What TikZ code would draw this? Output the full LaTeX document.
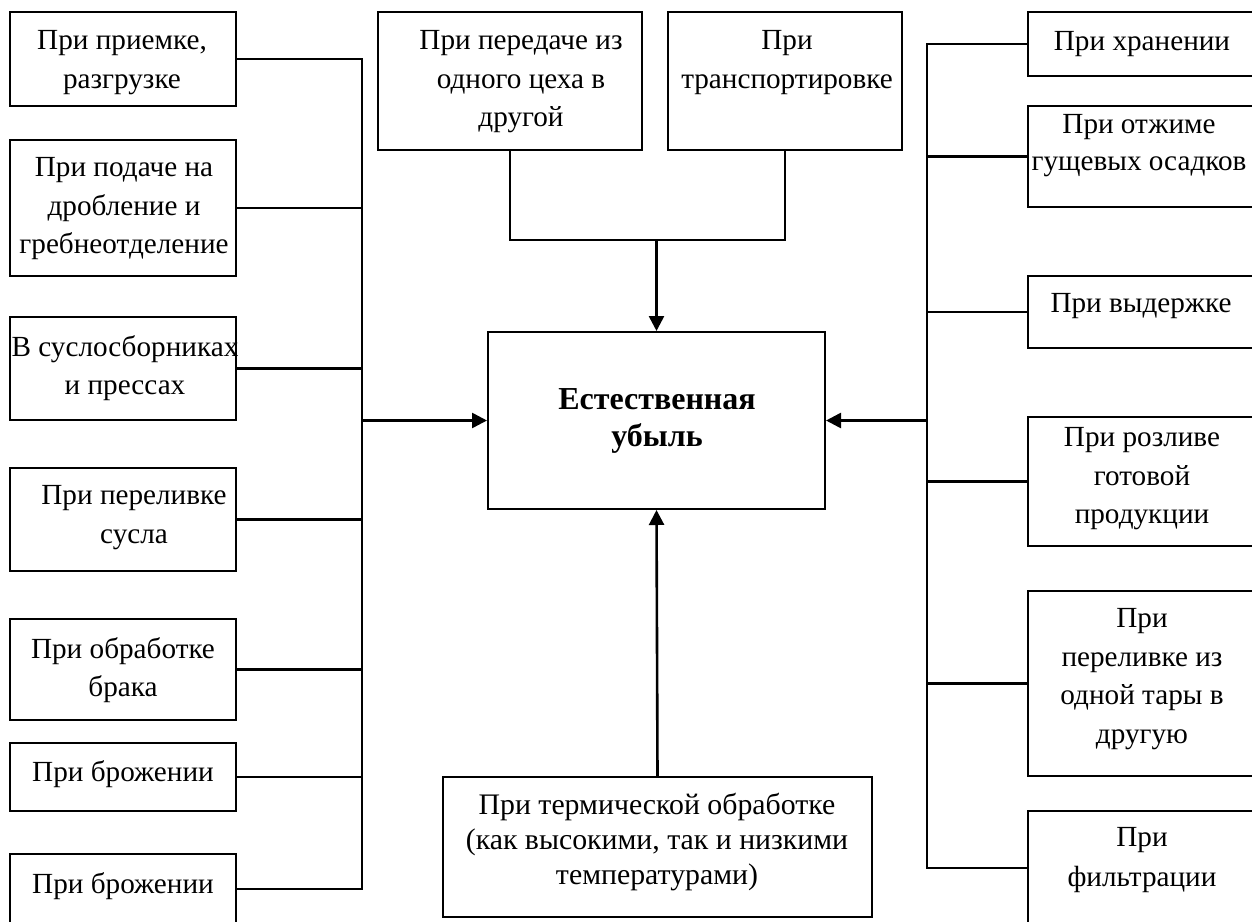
\documentclass[tikz,border=0pt]{standalone}
\usepackage{fontspec}
\setmainfont{Liberation Serif}
\usetikzlibrary{arrows.meta}
\begin{document}
\begin{tikzpicture}[x=0.5pt,y=-0.5pt,
  box/.style={draw, line width=1pt, rectangle, inner sep=0pt},
  txt/.style={anchor=north, inner sep=0pt, align=center,
    font=\fontsize{14.6}{19.25}\selectfont,
    execute at begin node={\rule{0pt}{10pt}}},
  link/.style={line width=1.3pt},
  feed/.style={line width=1.3pt, -{Triangle[length=7.5pt,width=7.5pt]}}]
\useasboundingbox (0,0) rectangle (1252,921);
\clip (0,0) rectangle (1252,921);

% left column
\node[box, minimum width=113pt, minimum height=47pt]   (L1) at (123,59)    {};
\node[box, minimum width=113pt, minimum height=68pt]   (L2) at (123,208)   {};
\node[box, minimum width=113pt, minimum height=51.5pt] (L3) at (123,368.5) {};
\node[box, minimum width=113pt, minimum height=51.5pt] (L4) at (123,519.5) {};
\node[box, minimum width=113pt, minimum height=50.5pt] (L5) at (123,669.5) {};
\node[box, minimum width=113pt, minimum height=34pt]   (L6) at (123,777)   {};
\node[box, minimum width=113pt, minimum height=35pt]   (L7) at (123,889)   {};

\node[txt] (tL1) at (122,30)  {При приемке,\\разгрузке};
\node[txt] (tL2) at (124,157) {При подаче на\\дробление и\\гребнеотделение};
\node[txt] (tL3) at (125,335) {В суслосборниках\\и прессах};
\node[txt] (tL4) at (134,485) {При переливке\\сусла};
\node[txt] (tL5) at (123,637) {При обработке\\брака};
\node[txt] (tL6) at (123,760) {При брожении};
\node[txt] (tL7) at (123,872) {При брожении};

% top pair
\node[box, minimum width=132pt, minimum height=69pt] (A) at (510,81) {};
\node[box, minimum width=117pt, minimum height=69pt] (B) at (785,81) {};
\node[txt] (tA) at (521,30) {При передаче из\\одного цеха в\\другой};
\node[txt] (tB) at (787,30) {При\\транспортировке};

% centre
\node[box, minimum width=168.5pt, minimum height=88.5pt] (M) at (656.5,420.5) {};
\node[txt, font=\fontsize{16}{18.5}\selectfont\bfseries] (tM) at (657,388) {Естественная\\убыль};

% bottom
\node[box, minimum width=214.5pt, minimum height=70pt] (D) at (657.5,847) {};
\node[txt, font=\fontsize{14.9}{17.5}\selectfont] (tD) at (657,793)
  {При термической обработке\\(как высокими, так и низкими\\температурами)};

% right column
\node[box, minimum width=124pt, minimum height=32pt]   (R1) at (1152,44)    {};
\node[box, minimum width=124pt, minimum height=50.5pt] (R2) at (1152,156.5) {};
\node[box, minimum width=124pt, minimum height=36pt]   (R3) at (1152,312)   {};
\node[box, minimum width=124pt, minimum height=64.5pt] (R4) at (1152,481.5) {};
\node[box, minimum width=124pt, minimum height=92.5pt] (R5) at (1152,683.5) {};
\node[box, minimum width=124pt, minimum height=57pt]   (R6) at (1152,868)   {};

\node[txt] (tR1) at (1142,30)  {При хранении};
\node[txt, font=\fontsize{14.6}{18.5}\selectfont] (tR2) at (1139,114) {При отжиме\\гущевых осадков};
\node[txt] (tR3) at (1141,292) {При выдержке};
\node[txt] (tR4) at (1142,427) {При розливе\\готовой\\продукции};
\node[txt] (tR5) at (1142,608) {При\\переливке из\\одной тары в\\другую};
\node[txt, font=\fontsize{14.6}{20}\selectfont] (tR6) at (1142,827) {При\\фильтрации};

% junction points
\coordinate (lb) at (362,420.5);
\coordinate (rb) at (927,420.5);
\coordinate (tj) at (656.5,240);

% left bus
\draw[link] (L1.east) -- (L1.east -| lb) -- (L7.east -| lb) -- (L7.east);
\foreach \n in {L2,L3,L4,L5,L6} \draw[link] (\n.east) -- (\n.east -| lb);
\draw[feed] (lb) -- (M.west);

% right bus
\draw[link] (R1.west) -- (R1.west -| rb) -- (R6.west -| rb) -- (R6.west);
\foreach \n in {R2,R3,R4,R5} \draw[link] (\n.west) -- (\n.west -| rb);
\draw[feed] (rb) -- (M.east);

% top join
\draw[link] (A.south) -- (A.south |- tj) -- (B.south |- tj) -- (B.south);
\draw[feed] (tj) -- (M.north);

% bottom feed
\draw[feed] (D.north) -- (M.south);
\end{tikzpicture}
\end{document}
